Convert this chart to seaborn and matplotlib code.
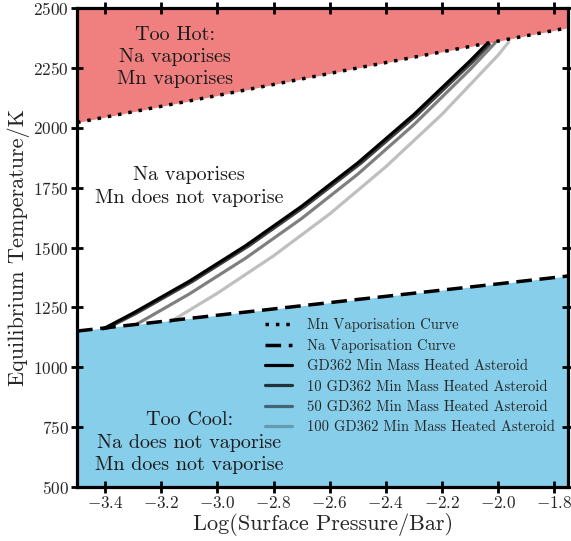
import numpy as np
import pandas as pd
import matplotlib
matplotlib.use("Agg")
import matplotlib.pyplot as plt
import seaborn as sns

# ---- data ----
mn_logp = [-3.5, -3.0, -2.5, -2.0, -1.75]
mn_temp = [2022, 2135, 2250, 2362, 2418]

na_logp = [-3.5, -3.0, -2.5, -2.0, -1.75]
na_temp = [1151, 1217, 1283, 1348, 1381]

gd1_logp = [-3.407, -3.3, -3.1, -2.9, -2.7, -2.5, -2.3, -2.1, -2.043]
gd1_temp = [1160, 1226, 1359, 1507, 1672, 1853, 2055, 2279, 2347]

gd10_logp = [-3.395, -3.288, -3.088, -2.888, -2.688, -2.488, -2.288, -2.088, -2.031]
gd10_temp = [1162, 1226, 1359, 1507, 1672, 1853, 2055, 2279, 2348]

gd50_logp = [-3.287, -3.1, -2.9, -2.7, -2.5, -2.3, -2.1, -2.01]
gd50_temp = [1180, 1306, 1455, 1621, 1806, 2013, 2243, 2355]

gd100_logp = [-3.169, -3.0, -2.8, -2.6, -2.4, -2.2, -2.0, -1.962]
gd100_temp = [1189, 1309, 1465, 1640, 1837, 2056, 2303, 2358]

xticks = [-3.4, -3.2, -3.0, -2.8, -2.6, -2.4, -2.2, -2.0, -1.8]
yticks = [500, 750, 1000, 1250, 1500, 1750, 2000, 2250, 2500]

sns.set_theme(style="ticks")
plt.rcParams["font.family"] = "serif"
plt.rcParams["font.serif"] = ["cmr10"]
plt.rcParams["mathtext.fontset"] = "cm"
plt.rcParams["axes.formatter.use_mathtext"] = True

fig = plt.figure(figsize=(5.71, 5.41), dpi=100)
ax = fig.add_axes([0.135, 0.1, 0.86, 0.885])

# fills
ax.fill_between(mn_logp, mn_temp, 2500, color="#F08080", lw=0, zorder=0)
ax.fill_between(na_logp, 500, na_temp, color="#87CEEB", lw=0, zorder=0)

sns.lineplot(x=mn_logp, y=mn_temp, ax=ax, color="black", lw=2.5,
             linestyle=(0, (1, 2)), label="Mn Vaporisation Curve", estimator=None)
sns.lineplot(x=na_logp, y=na_temp, ax=ax, color="black", lw=2.5,
             linestyle=(0, (4.5, 2.2)), label="Na Vaporisation Curve", estimator=None)
sns.lineplot(x=gd1_logp, y=gd1_temp, ax=ax, color="black", lw=2.3,
             label="GD362 Min Mass Heated Asteroid", estimator=None)
sns.lineplot(x=gd10_logp, y=gd10_temp, ax=ax, color="black", alpha=0.75, lw=2.3,
             label="10 GD362 Min Mass Heated Asteroid", estimator=None)
sns.lineplot(x=gd50_logp, y=gd50_temp, ax=ax, color="black", alpha=0.5, lw=2.3,
             label="50 GD362 Min Mass Heated Asteroid", estimator=None)
sns.lineplot(x=gd100_logp, y=gd100_temp, ax=ax, color="black", alpha=0.25, lw=2.3,
             label="100 GD362 Min Mass Heated Asteroid", estimator=None)

ax.set_xlim(-3.5, -1.75)
ax.set_ylim(500, 2500)
ax.set_xticks(xticks)
ax.set_yticks(yticks)
ax.set_xlabel("Log(Surface Pressure/Bar)", fontsize=16, labelpad=1)
ax.set_ylabel("Equilibrium Temperature/K", fontsize=16, labelpad=2)
ax.tick_params(direction="inout", length=8, width=2, labelsize=12.3, pad=2,
               top=True, right=True, color="black")
for s in ax.spines.values():
    s.set_linewidth(2.3)
    s.set_color("black")

tc = "#1a1a1a"
ax.text(-3.15, 2295, "Too Hot:\nNa vaporises\nMn vaporises", ha="center",
        va="center", fontsize=14.5, color=tc, linespacing=1.3)
ax.text(-3.1, 1755, "Na vaporises\nMn does not vaporise", ha="center",
        va="center", fontsize=14.5, color=tc, linespacing=1.3)
ax.text(-3.1, 685, "Too Cool:\nNa does not vaporise\nMn does not vaporise",
        ha="center", va="center", fontsize=14.5, color=tc, linespacing=1.3)

leg = ax.legend(loc="lower right", bbox_to_anchor=(0.985, 0.098), frameon=False,
                fontsize=10.5, handlelength=1.9, handletextpad=1.0,
                labelspacing=0.45, borderaxespad=0.0)

fig.savefig("out.png", dpi=100)
